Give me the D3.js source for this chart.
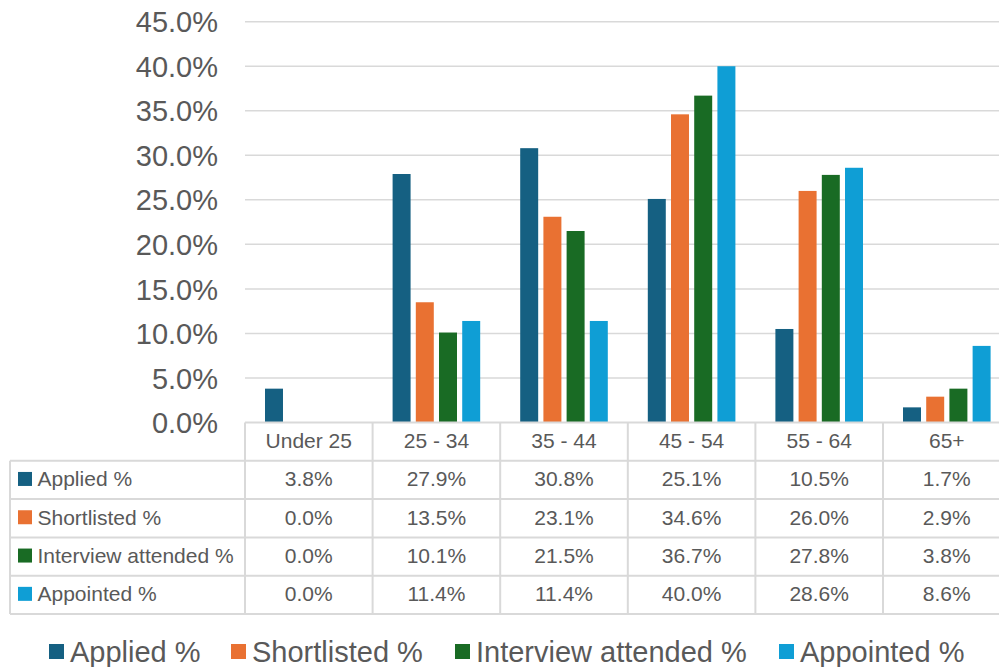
<!DOCTYPE html>
<html><head><meta charset="utf-8">
<script src="https://cdn.jsdelivr.net/npm/d3@7"></script>
<style>body{margin:0;background:#fff}svg{display:block;font-family:"Liberation Sans",Arial,sans-serif}</style>
</head><body><svg id="c" width="999" height="667"></svg>
<script>
const categories = ["Under 25","25 - 34","35 - 44","45 - 54","55 - 64","65+"];
const seriesNames = ["Applied %","Shortlisted %","Interview attended %","Appointed %"];
const applied = [3.8,27.9,30.8,25.1,10.5,1.7];
const shortlisted = [0.0,13.5,23.1,34.6,26.0,2.9];
const interview = [0.0,10.1,21.5,36.7,27.8,3.8];
const appointed = [0.0,11.4,11.4,40.0,28.6,8.6];
const yTicks = [0,5,10,15,20,25,30,35,40,45];
const colors = ["#156082","#E97132","#196B24","#0F9ED5"];

(function(){
const seriesValues = [applied, shortlisted, interview, appointed];
const svg = d3.select("#c");
const textCol = "#595959", lineCol = "#d9d9d9";
const plotLeft = 245, colW = 127.6, plotTop = 21.7, plotBottom = 422.5;
const x0 = d3.scaleBand().domain(categories).range([plotLeft, plotLeft + colW*categories.length]).padding(0);
const x1 = d3.scaleBand().domain(seriesNames).range([20, colW-20]).paddingInner(0.225).paddingOuter(0);
const y = d3.scaleLinear().domain([0,45]).range([plotBottom, plotTop]);

svg.append("g").selectAll("line").data(yTicks.filter(t=>t>0)).join("line")
  .attr("x1", plotLeft).attr("x2", 999).attr("y1", d=>y(d)).attr("y2", d=>y(d))
  .attr("stroke", lineCol).attr("stroke-width", 1.5);

const yAxis = d3.axisLeft(y).tickValues(yTicks).tickFormat(d=>d.toFixed(1)+"%").tickSize(0).tickPadding(0);
const ga = svg.append("g").attr("transform", "translate(218,0)").call(yAxis);
ga.select(".domain").remove();
ga.selectAll("text").attr("fill", textCol).attr("font-size", 29).attr("font-family", "Liberation Sans, Arial, sans-serif").attr("dy","0.35em");

seriesNames.forEach((s, si) => {
  svg.append("g").selectAll("rect").data(categories.map((c,i)=>({c, v: seriesValues[si][i]}))).join("rect")
    .attr("x", d => x0(d.c) + x1(s)).attr("width", x1.bandwidth())
    .attr("y", d => y(d.v)).attr("height", d => y(0) - y(d.v))
    .attr("fill", colors[si]);
});

const rowH = 38.3;
const tableTop = plotBottom;
const rightEdge = plotLeft + colW*categories.length;
const fs = 21;
const tg = svg.append("g");
tg.append("line").attr("x1", plotLeft).attr("x2", rightEdge).attr("y1", tableTop).attr("y2", tableTop).attr("stroke", lineCol).attr("stroke-width", 2);
for (let r = 1; r <= seriesNames.length + 1; r++) {
  tg.append("line").attr("x1", 10).attr("x2", rightEdge).attr("y1", tableTop + r*rowH).attr("y2", tableTop + r*rowH).attr("stroke", lineCol).attr("stroke-width", 2);
}
tg.append("line").attr("x1", 10).attr("x2", 10).attr("y1", tableTop + rowH).attr("y2", tableTop + 5*rowH).attr("stroke", lineCol).attr("stroke-width", 2);
categories.forEach(c => {
  tg.append("line").attr("x1", x0(c)).attr("x2", x0(c)).attr("y1", tableTop).attr("y2", tableTop + 5*rowH).attr("stroke", lineCol).attr("stroke-width", 2);
});
tg.selectAll("text.h").data(categories).join("text").attr("class","h")
  .attr("x", d => x0(d) + colW/2).attr("y", tableTop + rowH/2 - 1).attr("dy","0.35em")
  .attr("text-anchor","middle").attr("font-size", fs).attr("fill", textCol).text(d=>d);
seriesNames.forEach((s, si) => {
  const cy = tableTop + (si+1.5)*rowH - 1;
  tg.append("rect").attr("x", 18).attr("y", cy-7).attr("width", 14).attr("height", 14).attr("fill", colors[si]);
  tg.append("text").attr("x", 37.5).attr("y", cy).attr("dy","0.35em").attr("font-size", fs).attr("fill", textCol).text(s);
  tg.selectAll(null).data(categories.map((c,i)=>({c, v: seriesValues[si][i]}))).join("text")
    .attr("x", d => x0(d.c) + colW/2).attr("y", cy).attr("dy","0.35em")
    .attr("text-anchor","middle").attr("font-size", fs).attr("fill", textCol).text(d => d.v.toFixed(1)+"%");
});

const legX = [49, 231, 455, 779];
const lg = svg.append("g");
seriesNames.forEach((s, si) => {
  lg.append("rect").attr("x", legX[si]).attr("y", 644).attr("width", 15).attr("height", 15).attr("fill", colors[si]);
  lg.append("text").attr("x", legX[si] + 21).attr("y", 651.5).attr("dy","0.35em").attr("font-size", 29).attr("fill", textCol).text(s);
});
})();
</script></body></html>
